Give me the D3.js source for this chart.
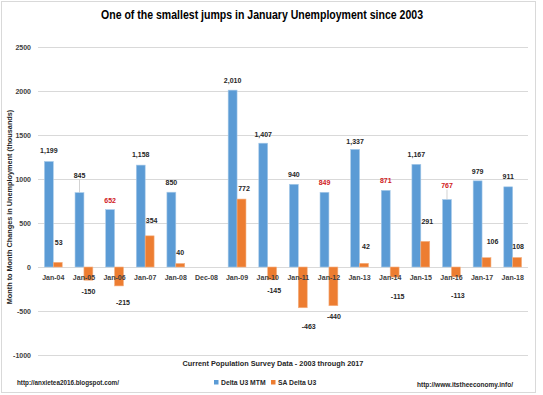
<!DOCTYPE html>
<html>
<head>
<meta charset="utf-8">
<title>January Unemployment</title>
<style>
  body { margin: 0; background: #fff; }
  text { font-family: "Liberation Sans", Arial, sans-serif; font-weight: bold; fill: #262626; }
  .grid line { stroke: #d9d9d9; stroke-width: 1; }
  .tick-label { font-size: 7px; fill: #404040; }
  .val { font-size: 7px; }
</style>
</head>
<body>
<script src="https://cdn.jsdelivr.net/npm/d3@7/dist/d3.min.js"></script>
<script>
// data
const months = ["Jan-04","Jan-05","Jan-06","Jan-07","Jan-08","Dec-08","Jan-09","Jan-10",
                "Jan-11","Jan-12","Jan-13","Jan-14","Jan-15","Jan-16","Jan-17","Jan-18"];
const deltaMTM = [1199, 845, 652, 1158, 850, null, 2010, 1407, 940, 849, 1337, 871, 1167, 767, 979, 911];
const saDelta  = [53, -150, -215, 354, 40, null, 772, -145, -463, -440, 42, -115, 291, -113, 106, 108];
const redLabels = ["Jan-06", "Jan-12", "Jan-14", "Jan-16"];
const yTicks = [-1000, -500, 0, 500, 1000, 1500, 2000, 2500];

// label nudges (px), kept apart from the values
const blueLift = [8, 15, 7, 8, 7, 0, 7, 6, 7, 7, 5, 7, 7, 12, 7, 8];
const orangeNudge = [[1,17],[0,9],[4,14],[2,13],[0,8],[0,0],[2.5,8],[2,8],
                     [6,16],[0.5,8],[2,14],[3,17],[2,17],[2,16],[6,14],[1,8]];

const W = 543, H = 395;
const svg = d3.select("body").append("svg").attr("width", W).attr("height", H);

svg.append("rect").attr("x", 1.5).attr("y", 1.5).attr("width", 534).attr("height", 391)
  .attr("fill", "#fff").attr("stroke", "#d9d9d9");

const x0 = d3.scaleBand().domain(months).range([38, 528]).padding(0);
const x1 = d3.scaleBand().domain(["mtm", "sa"]).range([0, x0.bandwidth()])
  .paddingInner(0).paddingOuter(0.72);
const y = d3.scaleLinear().domain([-1000, 2500]).range([355, 47]);

// grid
svg.append("g").attr("class", "grid")
  .selectAll("line").data(yTicks).join("line")
  .attr("x1", 38).attr("x2", 528)
  .attr("y1", d => Math.round(y(d)) + 0.5).attr("y2", d => Math.round(y(d)) + 0.5);

svg.append("g").selectAll("text").data(yTicks).join("text")
  .attr("class", "tick-label")
  .attr("x", 31).attr("y", d => y(d) + 2.5)
  .attr("text-anchor", "end")
  .text(d => d);

// bars
const rows = months.map((m, i) => ({ m, mtm: deltaMTM[i], sa: saDelta[i], i }));

svg.append("g").selectAll("rect").data(rows.filter(d => d.mtm !== null)).join("rect")
  .attr("x", d => x0(d.m) + x1("mtm"))
  .attr("width", x1.bandwidth())
  .attr("y", d => y(Math.max(0, d.mtm)))
  .attr("height", d => Math.abs(y(d.mtm) - y(0)))
  .attr("fill", "#5b9bd5").attr("stroke", "#a9cbe9").attr("stroke-width", 0.6);

svg.append("g").selectAll("rect").data(rows.filter(d => d.sa !== null)).join("rect")
  .attr("x", d => x0(d.m) + x1("sa"))
  .attr("width", x1.bandwidth())
  .attr("y", d => y(Math.max(0, d.sa)))
  .attr("height", d => Math.abs(y(d.sa) - y(0)))
  .attr("fill", "#ed7d31").attr("stroke", "#f4b183").attr("stroke-width", 0.6);

// category labels
svg.append("g").selectAll("text").data(months).join("text")
  .attr("class", "tick-label")
  .attr("x", d => x0(d) + x0.bandwidth() / 2)
  .attr("y", 279.5)
  .attr("text-anchor", "middle")
  .text(d => d);

// value labels
const fmt = v => d3.format(",")(v).replace("\u2212", "-");
const blueLab = svg.append("g");
rows.filter(d => d.mtm !== null).forEach(d => {
  const cx = x0(d.m) + x1("mtm") + x1.bandwidth() / 2;
  const top = y(d.mtm);
  const lift = blueLift[d.i];
  if (lift > 10) {
    blueLab.append("line")
      .attr("x1", cx).attr("x2", cx).attr("y1", top - lift + 2).attr("y2", top)
      .attr("stroke", "#bfbfbf").attr("stroke-width", 0.7);
  }
  blueLab.append("text").attr("class", "val")
    .attr("x", cx).attr("y", top - lift)
    .attr("text-anchor", "middle")
    .style("fill", redLabels.includes(d.m) ? "#d0201c" : "#262626")
    .text(fmt(d.mtm));
});

svg.append("g").selectAll("text").data(rows.filter(d => d.sa !== null)).join("text")
  .attr("class", "val")
  .attr("x", d => x0(d.m) + x1("sa") + x1.bandwidth() / 2 + orangeNudge[d.i][0])
  .attr("y", d => d.sa >= 0 ? y(d.sa) - orangeNudge[d.i][1] : y(d.sa) + orangeNudge[d.i][1] + 5)
  .attr("text-anchor", "middle")
  .text(d => fmt(d.sa));

// titles
svg.append("text").attr("x", 262).attr("y", 19).attr("text-anchor", "middle")
  .attr("font-size", 13).attr("textLength", 322).attr("lengthAdjust", "spacingAndGlyphs")
  .style("fill", "#000")
  .text("One of the smallest jumps in January Unemployment since 2003");

svg.append("text").attr("transform", "translate(12,207) rotate(-90)")
  .attr("text-anchor", "middle").attr("font-size", 7.3)
  .text("Month to Month Changes in Unemployment (thousands)");

svg.append("text").attr("x", 273).attr("y", 365.5).attr("text-anchor", "middle")
  .attr("font-size", 7.3)
  .text("Current Population Survey Data - 2003 through 2017");

// legend
const legend = [["Delta U3 MTM", "#5b9bd5", 214], ["SA Delta U3", "#ed7d31", 271]];
legend.forEach(([name, col, lx]) => {
  svg.append("rect").attr("x", lx).attr("y", 380).attr("width", 4.5).attr("height", 4.5).attr("fill", col);
  svg.append("text").attr("x", lx + 7).attr("y", 385).attr("font-size", 6.8).text(name);
});

svg.append("text").attr("x", 17).attr("y", 385).attr("font-size", 6.8)
  .attr("textLength", 102).attr("lengthAdjust", "spacingAndGlyphs")
  .text("http://anxietea2016.blogspot.com/");
svg.append("text").attr("x", 417).attr("y", 387).attr("font-size", 6.8)
  .attr("textLength", 96).attr("lengthAdjust", "spacingAndGlyphs")
  .text("http://www.itstheeconomy.info/");
</script>
</body>
</html>
